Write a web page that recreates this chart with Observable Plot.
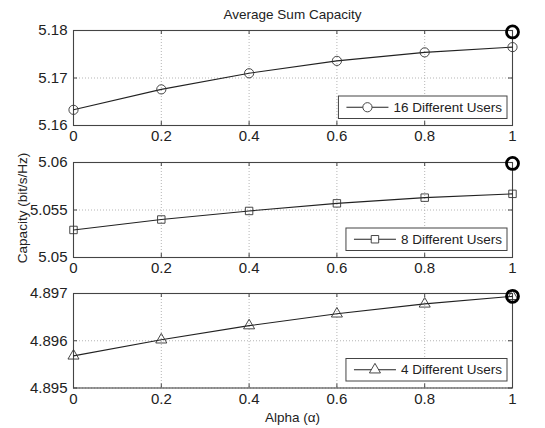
<!DOCTYPE html>
<html>
<head>
<meta charset="utf-8">
<script src="https://cdn.jsdelivr.net/npm/d3@7"></script>
<script src="https://cdn.jsdelivr.net/npm/@observablehq/plot@0.6"></script>
<style>
  html, body { margin: 0; padding: 0; background: #fff; }
  #chart { position: relative; width: 545px; height: 428px; background: #fff; font-family: "Liberation Sans", Arial, sans-serif; color: #222; overflow: hidden; }
  #chart .panel { position: absolute; left: 0; }
  #title { position: absolute; top: 7px; left: 73px; width: 439px; text-align: center; font-size: 13.5px; }
  #xlabel { position: absolute; top: 410px; left: 73px; width: 439px; text-align: center; font-size: 13.5px; }
  #ylabel { position: absolute; left: 22px; top: 208px; transform: translate(-50%, -50%) rotate(-90deg); white-space: nowrap; font-size: 13.5px; }
</style>
</head>
<body>
<div id="chart">
  <div id="title"></div>
  <div id="ylabel"></div>
  <div id="xlabel"></div>
</div>
<script>
// ---- data ----
const alpha = [0, 0.2, 0.4, 0.6, 0.8, 1];
const cap16 = [5.1633, 5.1676, 5.1710, 5.1736, 5.1754, 5.1765];
const cap8  = [5.0529, 5.0540, 5.0549, 5.0557, 5.0563, 5.0567];
const cap4  = [4.89568, 4.89602, 4.89632, 4.89657, 4.89678, 4.89694];
const seriesNames = ["16 Different Users", "8 Different Users", "4 Different Users"];
const xTicks = [0, 0.2, 0.4, 0.6, 0.8, 1];
const xTickLabels = ["0", "0.2", "0.4", "0.6", "0.8", "1"];
const yTicks16 = [5.16, 5.17, 5.18];
const yTickLabels16 = ["5.16", "5.17", "5.18"];
const yTicks8 = [5.05, 5.055, 5.06];
const yTickLabels8 = ["5.05", "5.055", "5.06"];
const yTicks4 = [4.895, 4.896, 4.897];
const yTickLabels4 = ["4.895", "4.896", "4.897"];
const highlightY = [5.1797, 5.0599, 4.89694];
const titleText = "Average Sum Capacity";
const xLabelText = "Alpha (α)";
const yLabelText = "Capacity (bit/s/Hz)";

document.getElementById("title").textContent = titleText;
document.getElementById("xlabel").textContent = xLabelText;
document.getElementById("ylabel").textContent = yLabelText;

const chart = document.getElementById("chart");
const FONT = '"Liberation Sans", Arial, sans-serif';
const LINE = "#222";
const FRAME = "#444";

const panels = [
  {values: cap16, yTicks: yTicks16, yLabels: yTickLabels16, symbol: "circle", r: 4.6, name: seriesNames[0], hl: highlightY[0],
   top: 0, marginTop: 30, frameH: 95, marginBottom: 20},
  {values: cap8, yTicks: yTicks8, yLabels: yTickLabels8, symbol: "square", r: 4.2, name: seriesNames[1], hl: highlightY[1],
   top: 145, marginTop: 17, frameH: 95, marginBottom: 20},
  {values: cap4, yTicks: yTicks4, yLabels: yTickLabels4, symbol: "triangle", r: 4.1, name: seriesNames[2], hl: highlightY[2],
   top: 277, marginTop: 16, frameH: 94.5, marginBottom: 20}
];

const W = 545, ML = 73, MR = 33;
const frameW = W - ML - MR;

panels.forEach((p) => {
  const data = alpha.map((a, i) => ({a, v: p.values[i]}));
  const yDomain = [p.yTicks[0], p.yTicks[p.yTicks.length - 1]];
  const height = p.marginTop + p.frameH + p.marginBottom;
  const svg = Plot.plot({
    width: W,
    height,
    marginLeft: ML,
    marginRight: MR,
    marginTop: p.marginTop,
    marginBottom: p.marginBottom,
    style: {fontFamily: FONT, fontSize: "15px", color: "#222", background: "transparent", overflow: "visible"},
    x: {domain: [0, 1]},
    y: {domain: yDomain},
    marks: [
      Plot.gridX(xTicks, {stroke: "#b5b5b5", strokeOpacity: 1, strokeDasharray: "1,2"}),
      Plot.gridY(p.yTicks, {stroke: "#b5b5b5", strokeOpacity: 1, strokeDasharray: "1,2"}),
      // inward ticks (MATLAB style)
      Plot.ruleX(xTicks, {x: d => d, stroke: FRAME, insetTop: p.frameH - 4}),
      Plot.ruleX(xTicks, {x: d => d, stroke: FRAME, insetBottom: p.frameH - 4}),
      Plot.ruleY(p.yTicks, {y: d => d, stroke: FRAME, insetRight: frameW - 4}),
      Plot.ruleY(p.yTicks, {y: d => d, stroke: FRAME, insetLeft: frameW - 4}),
      Plot.frame({stroke: FRAME, strokeWidth: 1.1}),
      Plot.axisX(xTicks, {tickSize: 0, tickPadding: 5, tickFormat: (d, i) => xTickLabels[i], fill: "#222", label: null}),
      Plot.axisY(p.yTicks, {tickSize: 0, tickPadding: 6, tickFormat: (d, i) => p.yLabels[i], fill: "#222", label: null}),
      Plot.line(data, {x: "a", y: "v", stroke: LINE, strokeWidth: 1.1}),
      Plot.dot(data, {x: "a", y: "v", symbol: () => p.symbol, r: p.r, stroke: "#333", strokeWidth: 0.9, fill: "none"}),
      Plot.dot([p.hl], {x: () => 1, y: d => d, r: 6, stroke: "#000", strokeWidth: 2.8, fill: "none", clip: false})
    ]
  });
  svg.classList.add("panel");
  svg.style.top = p.top + "px";
  chart.appendChild(svg);

  // legend box inside frame, bottom-right
  const s = d3.select(svg);
  const g = s.append("g").attr("font-family", FONT).attr("font-size", "13.5px").attr("text-anchor", "start");
  const frameRight = ML + frameW;
  const frameBottom = p.marginTop + p.frameH;
  const boxH = 22.5;
  const boxBottom = frameBottom - 6.5;
  const boxRight = frameRight - 5;
  const txt = g.append("text").text(p.name).attr("fill", "#222").attr("dy", "0.35em").attr("text-anchor", "start");
  const tw = txt.node().getComputedTextLength();
  const boxW = 8 + 42 + 5 + tw + 5;
  const boxLeft = boxRight - boxW;
  const cy = boxBottom - boxH / 2;
  g.insert("rect", "text").attr("x", boxLeft).attr("y", boxBottom - boxH).attr("width", boxW).attr("height", boxH)
    .attr("fill", "#fff").attr("stroke", FRAME).attr("stroke-width", 1);
  g.append("line").attr("x1", boxLeft + 8).attr("x2", boxLeft + 50).attr("y1", cy).attr("y2", cy)
    .attr("stroke", LINE).attr("stroke-width", 1.1);
  const symType = {circle: d3.symbolCircle, square: d3.symbolSquare, triangle: d3.symbolTriangle}[p.symbol];
  g.append("path").attr("d", d3.symbol(symType, p.r * p.r * Math.PI)())
    .attr("transform", `translate(${boxLeft + 29},${cy})`).attr("fill", "#fff").attr("stroke", "#333").attr("stroke-width", 0.9);
  txt.attr("x", boxLeft + 55).attr("y", cy);
});
</script>
</body>
</html>
